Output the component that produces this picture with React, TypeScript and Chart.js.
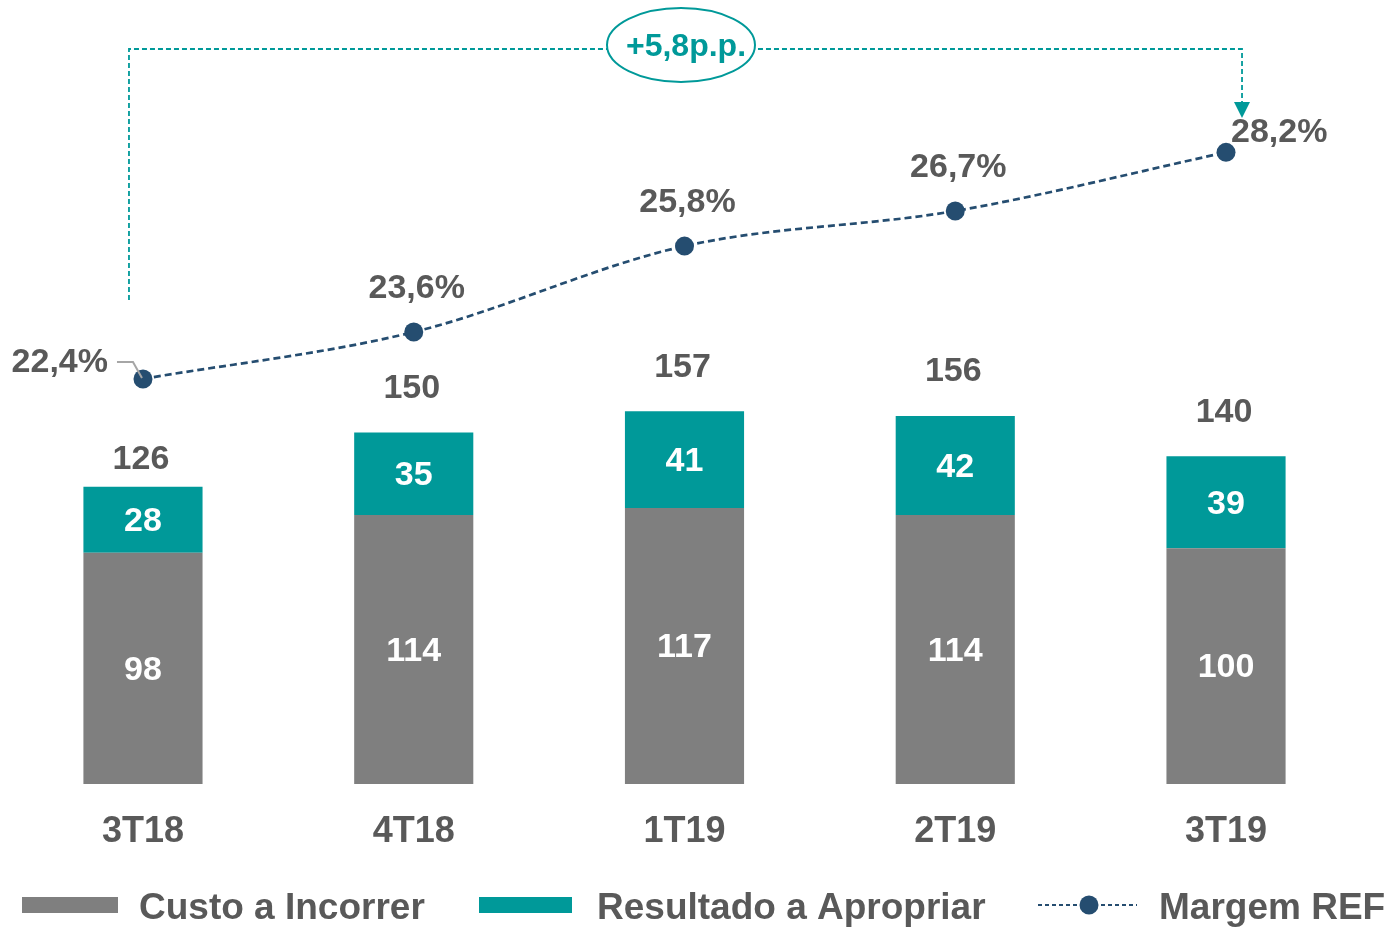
import React, { useEffect, useRef } from "react";
import { Chart, registerables } from "chart.js";

Chart.register(...registerables);

const categories = ["3T18", "4T18", "1T19", "2T19", "3T19"];
const custoIncorrer = [98, 114, 117, 114, 100];
const resultadoApropriar = [28, 35, 41, 42, 39];
const totals = [126, 150, 157, 156, 140];
const margemRef = [22.4, 23.6, 25.8, 26.7, 28.2];
const margemLabels = ["22,4%", "23,6%", "25,8%", "26,7%", "28,2%"];
const deltaLabel = "+5,8p.p.";
const legendLabels = ["Custo a Incorrer", "Resultado a Apropriar", "Margem REF"];

const GRAY = "#7F7F7F";
const TEAL = "#009999";
const NAVY = "#254D70";
const TEXT = "#595959";
const FONT = "'Liberation Sans', Arial, sans-serif";

// canvas is fixed at page (-4, 0): canvas x = page x + OX, canvas y = page y + OY
const OX = 4;
const OY = 0;

const overlayPlugin = {
  id: "overlay",
  afterDatasetsDraw(chart: any) {
    const ctx = chart.ctx as CanvasRenderingContext2D;
    const barLow = chart.getDatasetMeta(0);
    const barHigh = chart.getDatasetMeta(1);
    const line = chart.getDatasetMeta(2);
    const X = (x: number) => x + OX;
    const Y = (y: number) => y + OY;
    ctx.save();
    ctx.textAlign = "center";
    ctx.textBaseline = "middle";
    ctx.font = `bold 34px ${FONT}`;
    [barLow, barHigh].forEach((meta: any, di: number) => {
      const vals = di === 0 ? custoIncorrer : resultadoApropriar;
      meta.data.forEach((el: any, i: number) => {
        ctx.fillStyle = "#FFFFFF";
        ctx.fillText(String(vals[i]), el.x, (el.y + el.base) / 2 + 2);
      });
    });
    barHigh.data.forEach((el: any, i: number) => {
      ctx.fillStyle = TEXT;
      const off = i === 0 ? 27 : 44;
      ctx.fillText(String(totals[i]), el.x - 2, el.y - off);
    });
    line.data.forEach((pt: any, i: number) => {
      ctx.fillStyle = TEXT;
      if (i === 0) {
        ctx.textAlign = "right";
        ctx.fillText(margemLabels[i], pt.x - 35, pt.y - 16);
        ctx.strokeStyle = "#A6A6A6";
        ctx.lineWidth = 2;
        ctx.setLineDash([]);
        ctx.beginPath();
        ctx.moveTo(pt.x - 26, pt.y - 17);
        ctx.lineTo(pt.x - 10, pt.y - 17);
        ctx.lineTo(pt.x - 1, pt.y - 1);
        ctx.stroke();
      } else if (i === margemLabels.length - 1) {
        ctx.textAlign = "left";
        ctx.fillText(margemLabels[i], pt.x + 5, pt.y - 20);
      } else {
        ctx.textAlign = "center";
        ctx.fillText(margemLabels[i], pt.x + 3, pt.y - 43);
      }
    });
    ctx.textAlign = "center";
    ctx.font = `bold 36px ${FONT}`;
    ctx.fillStyle = TEXT;
    barLow.data.forEach((el: any, i: number) => {
      ctx.fillText(categories[i], el.x, Y(832));
    });

    // annotation bracket
    const p0 = line.data[0];
    const pN = line.data[line.data.length - 1];
    const xl = p0.x - 14;
    const xr = pN.x + 16;
    const yTop = Y(49);
    ctx.strokeStyle = TEAL;
    ctx.lineWidth = 1.8;
    ctx.setLineDash([5, 3]);
    ctx.beginPath();
    ctx.moveTo(xl, Y(300));
    ctx.lineTo(xl, yTop);
    ctx.lineTo(xr, yTop);
    ctx.lineTo(xr, Y(103));
    ctx.stroke();
    ctx.setLineDash([]);
    ctx.fillStyle = TEAL;
    ctx.beginPath();
    ctx.moveTo(xr - 8, Y(102));
    ctx.lineTo(xr + 8, Y(102));
    ctx.lineTo(xr, Y(118));
    ctx.closePath();
    ctx.fill();
    const ex = X(681);
    const ey = Y(45);
    ctx.beginPath();
    ctx.ellipse(ex, ey, 74, 37, 0, 0, Math.PI * 2);
    ctx.fillStyle = "#FFFFFF";
    ctx.fill();
    ctx.lineWidth = 2;
    ctx.strokeStyle = TEAL;
    ctx.stroke();
    ctx.fillStyle = TEAL;
    ctx.font = `bold 32px ${FONT}`;
    ctx.textAlign = "center";
    ctx.fillText(deltaLabel, ex + 5, ey + 2);

    // legend
    const ly = Y(905);
    ctx.font = `bold 37px ${FONT}`;
    ctx.textAlign = "left";
    ctx.fillStyle = GRAY;
    ctx.fillRect(X(22), ly - 8, 96, 16);
    ctx.fillStyle = TEAL;
    ctx.fillRect(X(479), ly - 8, 93, 16);
    ctx.strokeStyle = NAVY;
    ctx.lineWidth = 2;
    ctx.setLineDash([4, 3]);
    ctx.beginPath();
    ctx.moveTo(X(1038), ly);
    ctx.lineTo(X(1137), ly);
    ctx.stroke();
    ctx.setLineDash([]);
    ctx.fillStyle = NAVY;
    ctx.beginPath();
    ctx.arc(X(1089), ly, 9.5, 0, Math.PI * 2);
    ctx.fill();
    ctx.fillStyle = TEXT;
    ctx.fillText(legendLabels[0], X(139), ly + 4);
    ctx.fillText(legendLabels[1], X(597), ly + 4);
    ctx.fillText(legendLabels[2], X(1159), ly + 4);
    ctx.restore();
  },
};

export default function App() {
  const ref = useRef<HTMLCanvasElement>(null);
  useEffect(() => {
    if (!ref.current) return;
    const chart = new Chart(ref.current, {
      data: {
        labels: categories,
        datasets: [
          {
            type: "bar",
            label: legendLabels[0],
            data: custoIncorrer,
            backgroundColor: GRAY,
            stack: "s",
            yAxisID: "y",
            barPercentage: 0.44,
            categoryPercentage: 1,
            order: 2,
          },
          {
            type: "bar",
            label: legendLabels[1],
            data: resultadoApropriar,
            backgroundColor: TEAL,
            stack: "s",
            yAxisID: "y",
            barPercentage: 0.44,
            categoryPercentage: 1,
            order: 2,
          },
          {
            type: "line",
            label: legendLabels[2],
            data: margemRef,
            yAxisID: "y1",
            borderColor: NAVY,
            borderWidth: 2.7,
            borderDash: [7, 4],
            pointRadius: 9.5,
            pointBackgroundColor: NAVY,
            pointBorderWidth: 0,
            cubicInterpolationMode: "monotone",
            order: 1,
          },
        ],
      } as any,
      options: {
        animation: false,
        responsive: true,
        maintainAspectRatio: false,
        layout: { padding: { left: 11.6, right: 24.6, top: 100, bottom: 146 } },
        plugins: { legend: { display: false }, tooltip: { enabled: false } },
        scales: {
          x: { display: false, stacked: true, offset: true },
          y: { display: false, stacked: true, min: 0, max: 290 },
          y1: { display: false, min: 12.03, max: 29.54 },
        },
      } as any,
      plugins: [overlayPlugin],
    });
    return () => chart.destroy();
  }, []);
  return (
    <div style={{ position: "fixed", left: -4, top: 0, width: 1390, height: 930 }}>
      <canvas ref={ref} />
    </div>
  );
}
